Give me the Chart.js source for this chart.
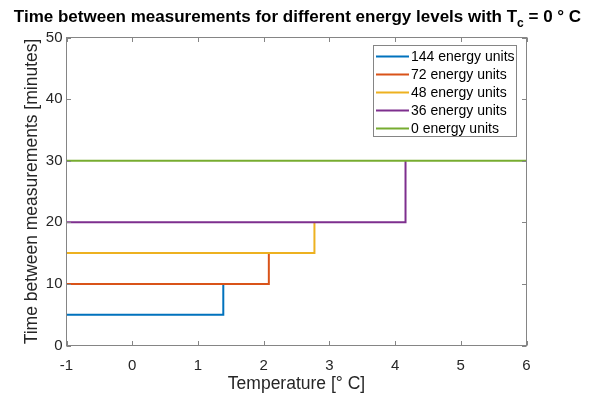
<!DOCTYPE html>
<html>
<head>
<meta charset="utf-8">
<script src="https://cdn.jsdelivr.net/npm/chart.js@4"></script>
<style>
  html, body { margin: 0; padding: 0; background: #fff; }
  #wrap { width: 591px; height: 399px; }
</style>
</head>
<body>
<div id="wrap"><canvas id="myChart" width="591" height="399"></canvas></div>
<script>
// ===== data =====
const seriesLabels = ['144 energy units', '72 energy units', '48 energy units', '36 energy units', '0 energy units'];
const seriesColors = ['#0072BD', '#D95319', '#EDB120', '#7E2F8E', '#77AC30'];
const stepTemps = [1.386, 2.079, 2.773, 4.159, 6];   // where the interval jumps [° C]
const lowIntervals = [5, 10, 15, 20, 30];            // minutes, below the jump
const highIntervals = [10, 15, 20, 30, 30];          // minutes, after the jump
const tempMin = -1;
const tempMax = 6;
const xTicks = [-1, 0, 1, 2, 3, 4, 5, 6];
const yTicks = [0, 10, 20, 30, 40, 50];

const FONT = 'Liberation Sans, Arial, Helvetica, sans-serif';
const TEXT = '#262626';
const BOX = '#858585';

// step line: flat at low value, then straight up
function stepPoints(i) {
  const pts = [{ x: tempMin, y: lowIntervals[i] }, { x: stepTemps[i], y: lowIntervals[i] }];
  if (highIntervals[i] !== lowIntervals[i]) pts.push({ x: stepTemps[i], y: highIntervals[i] });
  return pts;
}

const datasets = seriesLabels.map((label, i) => ({
  label: label,
  data: stepPoints(i),
  borderColor: seriesColors[i],
  backgroundColor: seriesColors[i],
  borderWidth: 2,
  pointRadius: 0,
  showLine: true,
  order: seriesLabels.length - i,
}));

// ===== MATLAB look: box, inward ticks, title, legend =====
const matlabPlugin = {
  id: 'matlab',
  afterDatasetsDraw(chart) {
    const { ctx, chartArea: a, scales } = chart;
    ctx.save();
    ctx.strokeStyle = BOX;
    ctx.lineWidth = 1;
    ctx.strokeRect(a.left, a.top, a.right - a.left, a.bottom - a.top);
    const tl = 4.5;
    ctx.beginPath();
    for (const v of xTicks) {
      const px = Math.round(scales.x.getPixelForValue(v)) + 0.5;
      ctx.moveTo(px, a.bottom); ctx.lineTo(px, a.bottom - tl);
      ctx.moveTo(px, a.top); ctx.lineTo(px, a.top + tl);
    }
    for (const v of yTicks) {
      const py = Math.round(scales.y.getPixelForValue(v)) + 0.5;
      ctx.moveTo(a.left, py); ctx.lineTo(a.left + tl, py);
      ctx.moveTo(a.right, py); ctx.lineTo(a.right - tl, py);
    }
    ctx.stroke();

    // legend
    const lx = 373.5, ly = 45.5, lw = 143, lh = 91;
    ctx.fillStyle = '#fff';
    ctx.fillRect(lx, ly, lw, lh);
    ctx.strokeStyle = BOX;
    ctx.strokeRect(lx, ly, lw, lh);
    ctx.font = '14px ' + FONT;
    ctx.textBaseline = 'middle';
    chart.data.datasets.forEach((ds, i) => {
      const ry = 56.5 + i * 18;
      ctx.strokeStyle = ds.borderColor;
      ctx.lineWidth = 2;
      ctx.beginPath();
      ctx.moveTo(376, ry); ctx.lineTo(409, ry);
      ctx.stroke();
      ctx.fillStyle = '#000';
      ctx.fillText(ds.label, 411, ry + 0.5);
    });

    // title with subscript
    const p1 = 'Time between measurements for different energy levels with T';
    const sub = 'c';
    const p2 = ' = 0 \u00B0 C';
    const big = 'bold 17px ' + FONT, small = 'bold 12px ' + FONT;
    ctx.font = big; const w1 = ctx.measureText(p1).width, w3 = ctx.measureText(p2).width;
    ctx.font = small; const w2 = ctx.measureText(sub).width;
    let x = (a.left + a.right) / 2 + 1 - (w1 + w2 + w3) / 2;
    ctx.fillStyle = '#000';
    ctx.textBaseline = 'alphabetic';
    ctx.font = big; ctx.fillText(p1, x, 22); x += w1;
    ctx.font = small; ctx.fillText(sub, x, 27); x += w2;
    ctx.font = big; ctx.fillText(p2, x, 22);
    ctx.restore();
  }
};

new Chart(document.getElementById('myChart'), {
  type: 'scatter',
  data: { datasets },
  options: {
    responsive: false,
    animation: false,
    layout: { padding: { left: 0, right: 64.5, top: 37.5, bottom: 0 } },
    plugins: { legend: { display: false }, tooltip: { enabled: false } },
    scales: {
      x: {
        type: 'linear', min: tempMin, max: tempMax,
        afterBuildTicks: s => { s.ticks = xTicks.map(v => ({ value: v })); },
        afterFit: s => { s.height = 53.5; },
        grid: { display: false, drawTicks: false }, border: { display: false },
        ticks: { color: TEXT, font: { family: FONT, size: 15 }, padding: 11, maxRotation: 0 },
        title: { display: true, text: 'Temperature [\u00B0 C]', color: TEXT, font: { family: FONT, size: 17.5 }, padding: { top: 0, bottom: 4 } },
      },
      y: {
        type: 'linear', min: 0, max: 50,
        afterBuildTicks: s => { s.ticks = yTicks.map(v => ({ value: v })); },
        afterFit: s => { s.width = 66.5; },
        grid: { display: false, drawTicks: false }, border: { display: false },
        ticks: { color: TEXT, font: { family: FONT, size: 15 }, padding: 4 },
        title: { display: true, text: 'Time between measurements [minutes]', color: TEXT, font: { family: FONT, size: 17.5 }, padding: { top: 22, bottom: 0 } },
      },
    },
  },
  plugins: [matlabPlugin],
});
</script>
</body>
</html>
